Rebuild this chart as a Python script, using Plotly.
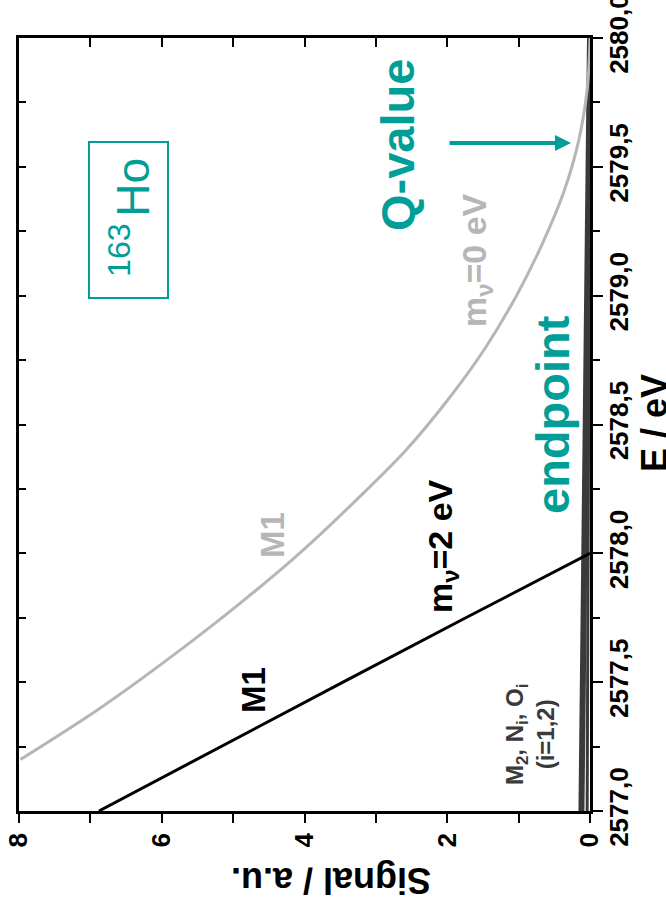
import plotly.graph_objects as go

# ---------------- data ----------------
# m_nu = 0 eV spectrum (M1 line), energy [eV] vs signal [a.u.]
e_m0 = [2577.20, 2577.40, 2577.60, 2577.80, 2578.00, 2578.20, 2578.40, 2578.60,
        2578.80, 2579.00, 2579.20, 2579.40, 2579.60, 2579.80, 2580.00]
s_m0 = [7.98, 6.86, 5.86, 4.93, 4.07, 3.30, 2.58, 1.98,
        1.46, 1.03, 0.67, 0.37, 0.16, 0.04, 0.00]

# m_nu = 2 eV spectrum (M1 line)
e_m2 = [2577.00, 2577.25, 2577.50, 2577.75, 2578.00]
s_m2 = [6.88, 5.18, 3.46, 1.74, 0.00]

# M2, Ni, Oi contributions (thin band near zero)
e_other = [2577.00, 2580.00]
s_other_a = [0.12, 0.00]
s_other_b = [0.04, 0.00]

e_ticks = [2577.0, 2577.5, 2578.0, 2578.5, 2579.0, 2579.5, 2580.0]
e_ticktext = ["2577,0", "2577,5", "2578,0", "2578,5", "2579,0", "2579,5", "2580,0"]
s_ticks = [0, 2, 4, 6, 8]
s_ticktext = ["0", "2", "4", "6", "8"]

# ---------------- geometry helpers ----------------
W, H = 666, 910
ML, MR, MT, MB = 19, 76, 38, 99
PW, PH = W - ML - MR, H - MT - MB
S_RANGE = [8, 0]
E_RANGE = [2577, 2580]


def pxp(px):
    return (px - ML) / PW


def pyp(py):
    return 1 - (py - MT) / PH


def dx(px):
    return S_RANGE[0] + pxp(px) * (S_RANGE[1] - S_RANGE[0])


def dy(py):
    return E_RANGE[0] + pyp(py) * (E_RANGE[1] - E_RANGE[0])


TEAL = "#009e96"
GRAY = "#b6b6b6"
DARK = "#3a3a3a"
FONT = "Liberation Sans, Arial, sans-serif"
NARROW = "Liberation Sans Narrow, Liberation Sans, Arial, sans-serif"

fig = go.Figure()

fig.add_trace(go.Scatter(x=s_other_a, y=e_other, mode="lines",
                         line=dict(color=DARK, width=6), hoverinfo="skip"))
fig.add_trace(go.Scatter(x=s_other_b, y=e_other, mode="lines",
                         line=dict(color=DARK, width=3), hoverinfo="skip"))
fig.add_trace(go.Scatter(x=s_m0, y=e_m0, mode="lines",
                         line=dict(color=GRAY, width=3, shape="spline", smoothing=1.0),
                         hoverinfo="skip"))
fig.add_trace(go.Scatter(x=s_m2, y=e_m2, mode="lines",
                         line=dict(color="black", width=3), hoverinfo="skip"))
# invisible traces for mirror / label axes
fig.add_trace(go.Scatter(x=[None], y=[None], xaxis="x2", yaxis="y2",
                         mode="lines", showlegend=False, hoverinfo="skip"))
fig.add_trace(go.Scatter(x=[None], y=[None], xaxis="x2", yaxis="y3",
                         mode="lines", showlegend=False, hoverinfo="skip"))

tickfont = dict(family=NARROW, size=26, color="black", weight="bold")

fig.update_layout(
    width=W, height=H,
    margin=dict(l=ML, r=MR, t=MT, b=MB, pad=0, autoexpand=False),
    paper_bgcolor="white", plot_bgcolor="white",
    showlegend=False,
    xaxis=dict(range=S_RANGE, tickvals=s_ticks, ticktext=s_ticktext,
               ticks="outside", ticklen=9, tickwidth=2, tickcolor="black",
               tickangle=-90, tickfont=tickfont, automargin=False,
               ticklabeloverflow="allow",
               minor=dict(dtick=1, tick0=0, ticks="outside", ticklen=9,
                          tickwidth=2, tickcolor="black", showgrid=False),
               showline=True, linewidth=2.5, linecolor="black",
               showgrid=False, zeroline=False, side="bottom"),
    xaxis2=dict(range=S_RANGE, overlaying="x", side="top", anchor="y2",
                tickmode="linear", tick0=0, dtick=1, ticks="inside",
                ticklen=9, tickwidth=2, tickcolor="black", showticklabels=False,
                showline=True, linewidth=2.5, linecolor="black", automargin=False,
                showgrid=False, zeroline=False),
    yaxis=dict(range=E_RANGE, tickvals=e_ticks, ticks="outside", ticklen=10,
               tickwidth=2, tickcolor="black", showticklabels=False,
               side="right", automargin=False,
               minor=dict(dtick=0.25, tick0=2577, ticks="outside", ticklen=7,
                          tickwidth=2, tickcolor="black", showgrid=False),
               showline=True, linewidth=2.5, linecolor="black",
               showgrid=False, zeroline=False),
    yaxis2=dict(range=E_RANGE, overlaying="y", side="left", anchor="x2",
                tickmode="linear", tick0=2577, dtick=0.25, ticks="inside",
                ticklen=7, tickwidth=2, tickcolor="black", showticklabels=False,
                showline=True, linewidth=2.5, linecolor="black", automargin=False,
                showgrid=False, zeroline=False),
    # labels of the energy axis
    yaxis3=dict(range=E_RANGE, overlaying="y", side="right", anchor="x2",
                tickvals=e_ticks, ticktext=e_ticktext, ticks="",
                ticklabelstandoff=11,
                tickangle=-90, tickfont=tickfont, automargin=False,
                ticklabeloverflow="allow", showline=False,
                showgrid=False, zeroline=False),
)

ann = []


def txt(text, px, py, size, color, angle=-90, bold=True, family=FONT):
    ann.append(dict(text=text, x=pxp(px), y=pyp(py), xref="paper", yref="paper",
                    showarrow=False, textangle=angle,
                    font=dict(family=family, size=size, color=color,
                              weight="bold" if bold else "normal"),
                    xanchor="center", yanchor="middle"))


txt("Q-value", 397, 145, 47, TEAL)
txt("endpoint", 552, 415, 47, TEAL)
txt("m<sub>ν</sub>=0 eV", 476, 260, 34, GRAY)
txt("m<sub>ν</sub>=2 eV", 442, 546, 34, "black")
txt("M1", 272, 535, 33, GRAY)
txt("M1", 253, 690, 33, "black")
txt("M<sub>2</sub>, N<sub>i</sub>, O<sub>i</sub><br>(i=1,2)", 530, 735, 24, DARK)
txt("<sup>163\u2009</sup>Ho", 130, 218, 46, TEAL, bold=False)
txt("E / eV", 654, 423, 36, "black")
txt("Signal / a.u.", 331, 881, 36, "black", angle=180)

# Q-value arrow
ann.append(dict(text="", x=dx(571), y=dy(143), ax=dx(448), ay=dy(143),
                xref="x", yref="y", axref="x", ayref="y",
                showarrow=True, arrowhead=2, arrowsize=0.8, arrowwidth=4,
                arrowcolor=TEAL))

fig.update_layout(annotations=ann)

# box around 163Ho
fig.add_shape(type="rect", xref="x", yref="y",
              x0=dx(89), x1=dx(168), y0=dy(298), y1=dy(142),
              line=dict(color=TEAL, width=2), fillcolor="rgba(0,0,0,0)")

fig.write_html("out.html",
               config={"displayModeBar": False},
               post_script="document.body.style.margin='0';"
                           "document.body.style.overflow='hidden';")
